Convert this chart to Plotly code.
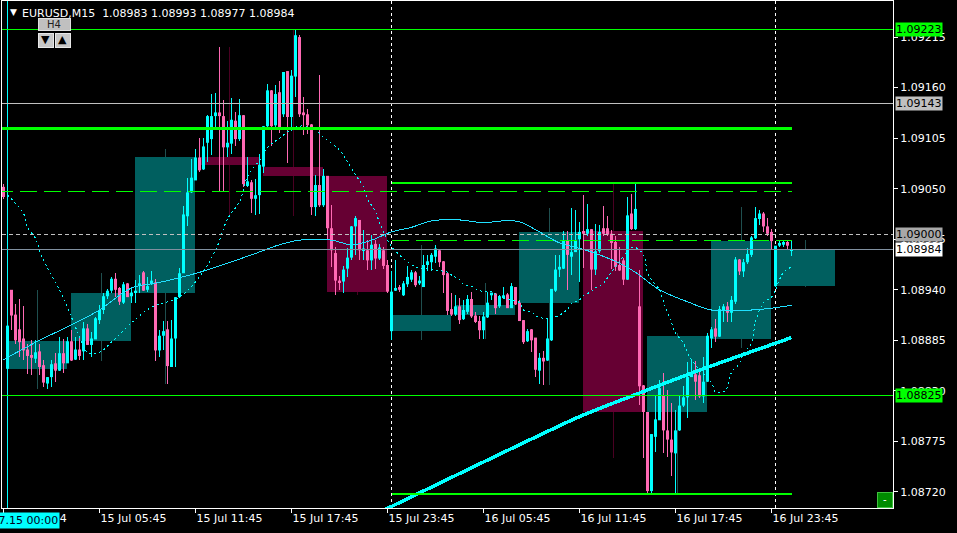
import plotly.graph_objects as go

# ---------------- data (EURUSD M15) ----------------
bar_index = list(range(-1, 197))   # -1 = 12 Jul 23:45, 0 = 15 Jul 00:00, ... 196 = 17 Jul 01:00

open_ = [
1.09052,
1.08854, 1.08940, 1.08913, 1.08897, 1.08887, 1.08875, 1.08869, 1.08865, 1.08873, 1.08858,
1.08838, 1.08845, 1.08860, 1.08852, 1.08871, 1.08860, 1.08884, 1.08864, 1.08875, 1.08873,
1.08898, 1.08880, 1.08886, 1.08907, 1.08918, 1.08933, 1.08939, 1.08952, 1.08942, 1.08926,
1.08947, 1.08933, 1.08937, 1.08944, 1.08959, 1.08940, 1.08946, 1.08948, 1.08874, 1.08890,
1.08897, 1.08856, 1.08887, 1.08932, 1.08958, 1.09020, 1.09046, 1.09059, 1.09084, 1.09071,
1.09100, 1.09104, 1.09129, 1.09133, 1.09129, 1.09095, 1.09099, 1.09124, 1.09104, 1.09130,
1.09053, 1.09057, 1.09039, 1.09043, 1.09074, 1.09118, 1.09157, 1.09119, 1.09155, 1.09131,
1.09178, 1.09128, 1.09172, 1.09215, 1.09133, 1.09131, 1.09120, 1.09030, 1.09054, 1.09032,
1.09064, 1.09007, 1.08980, 1.08950, 1.08949, 1.08963, 1.08975, 1.09009, 1.09016, 1.08983,
1.08983, 1.08972, 1.08990, 1.08974, 1.08983, 1.08967, 1.08895, 1.08939, 1.08943, 1.08934,
1.08946, 1.08951, 1.08959, 1.08947, 1.08943, 1.08967, 1.08970, 1.08976, 1.08983, 1.08971,
1.08958, 1.08919, 1.08913, 1.08922, 1.08908, 1.08916, 1.08930, 1.08912, 1.08906, 1.08896,
1.08910, 1.08934, 1.08936, 1.08922, 1.08931, 1.08935, 1.08920, 1.08943, 1.08926, 1.08907,
1.08884, 1.08897, 1.08888, 1.08852, 1.08866, 1.08863, 1.08885, 1.08939, 1.08962, 1.08963,
1.08994, 1.08976, 1.08981, 1.08995, 1.09004, 1.09001, 1.09006, 1.08962, 1.08982, 1.09007,
1.09007, 1.09001, 1.08992, 1.08967, 1.08972, 1.08951, 1.09023, 1.09006, 1.08922, 1.08836,
1.08807, 1.08721, 1.08780, 1.08798, 1.08825, 1.08787, 1.08777, 1.08762, 1.08787, 1.08814,
1.08823, 1.08845, 1.08848, 1.08847, 1.08824, 1.08840, 1.08887, 1.08898, 1.08889, 1.08917,
1.08922, 1.08915, 1.08927, 1.08973, 1.08960, 1.08970, 1.08978, 1.08996, 1.09017, 1.09023,
1.09009, 1.09003, 1.08944, 1.08988, 1.08989, 1.08992, 1.08983,
]
high = [
1.09055,
1.08903, 1.08940, 1.08925, 1.08930, 1.08922, 1.08881, 1.08885, 1.08885, 1.08881, 1.08864,
1.08845, 1.08864, 1.08871, 1.08889, 1.08887, 1.08889, 1.08896, 1.08889, 1.08889, 1.08905,
1.08903, 1.08894, 1.08910, 1.08923, 1.08936, 1.08941, 1.08954, 1.08958, 1.08943, 1.08949,
1.08947, 1.08941, 1.08951, 1.08956, 1.08960, 1.08954, 1.08961, 1.08952, 1.08896, 1.08906,
1.08906, 1.08907, 1.08932, 1.08964, 1.09031, 1.09062, 1.09082, 1.09093, 1.09105, 1.09105,
1.09130, 1.09153, 1.09154, 1.09204, 1.09146, 1.09124, 1.09149, 1.09133, 1.09148, 1.09130,
1.09085, 1.09059, 1.09061, 1.09088, 1.09118, 1.09164, 1.09157, 1.09163, 1.09167, 1.09177,
1.09178, 1.09179, 1.09224, 1.09217, 1.09150, 1.09137, 1.09120, 1.09065, 1.09174, 1.09071,
1.09064, 1.09032, 1.08987, 1.08955, 1.08966, 1.08985, 1.09009, 1.09020, 1.09016, 1.09005,
1.08994, 1.09000, 1.08994, 1.08990, 1.08987, 1.08972, 1.08960, 1.08972, 1.08945, 1.08950,
1.08966, 1.08962, 1.08960, 1.08955, 1.08978, 1.08978, 1.08980, 1.08989, 1.08983, 1.08971,
1.08958, 1.08936, 1.08934, 1.08931, 1.08929, 1.08934, 1.08938, 1.08916, 1.08911, 1.08916,
1.08938, 1.08937, 1.08936, 1.08934, 1.08943, 1.08936, 1.08947, 1.08943, 1.08929, 1.08907,
1.08897, 1.08897, 1.08888, 1.08871, 1.08873, 1.08909, 1.08941, 1.08978, 1.08978, 1.09004,
1.09004, 1.09029, 1.09027, 1.09014, 1.09043, 1.09033, 1.09006, 1.09012, 1.09011, 1.09031,
1.09020, 1.09005, 1.08998, 1.08987, 1.08975, 1.09041, 1.09044, 1.09055, 1.08962, 1.08836,
1.08807, 1.08783, 1.08824, 1.08842, 1.08849, 1.08831, 1.08817, 1.08809, 1.08825, 1.08835,
1.08861, 1.08864, 1.08862, 1.08855, 1.08867, 1.08893, 1.08900, 1.08908, 1.08922, 1.08925,
1.08927, 1.08933, 1.08976, 1.08974, 1.08974, 1.08985, 1.08998, 1.09030, 1.09027, 1.09025,
1.09018, 1.09006, 1.08988, 1.08993, 1.08994, 1.08994, 1.08993,
]
low = [
1.09039,
1.08852, 1.08896, 1.08881, 1.08867, 1.08864, 1.08848, 1.08847, 1.08860, 1.08847, 1.08834,
1.08832, 1.08834, 1.08840, 1.08852, 1.08849, 1.08860, 1.08862, 1.08864, 1.08864, 1.08864,
1.08880, 1.08867, 1.08886, 1.08903, 1.08914, 1.08930, 1.08936, 1.08932, 1.08923, 1.08925,
1.08932, 1.08926, 1.08926, 1.08936, 1.08939, 1.08938, 1.08945, 1.08863, 1.08867, 1.08874,
1.08838, 1.08856, 1.08856, 1.08931, 1.08958, 1.09009, 1.09045, 1.09059, 1.09068, 1.09070,
1.09079, 1.09087, 1.09114, 1.09048, 1.09048, 1.09085, 1.09088, 1.09096, 1.09102, 1.09052,
1.09052, 1.09024, 1.09021, 1.09023, 1.09067, 1.09117, 1.09096, 1.09114, 1.09111, 1.09128,
1.09078, 1.09113, 1.09150, 1.09128, 1.09108, 1.09110, 1.09021, 1.09020, 1.09030, 1.09030,
1.08995, 1.08965, 1.08934, 1.08940, 1.08936, 1.08954, 1.08972, 1.08978, 1.08972, 1.08972,
1.08962, 1.08962, 1.08963, 1.08972, 1.08963, 1.08936, 1.08885, 1.08939, 1.08938, 1.08933,
1.08943, 1.08949, 1.08943, 1.08945, 1.08943, 1.08960, 1.08960, 1.08969, 1.08965, 1.08936,
1.08913, 1.08911, 1.08911, 1.08903, 1.08907, 1.08914, 1.08909, 1.08904, 1.08886, 1.08887,
1.08909, 1.08929, 1.08914, 1.08920, 1.08931, 1.08920, 1.08920, 1.08923, 1.08906, 1.08881,
1.08883, 1.08872, 1.08845, 1.08838, 1.08836, 1.08862, 1.08884, 1.08938, 1.08954, 1.08963,
1.08940, 1.08956, 1.08981, 1.08949, 1.08964, 1.08998, 1.08940, 1.08956, 1.08980, 1.08999,
1.08998, 1.08963, 1.08960, 1.08960, 1.08945, 1.08951, 1.09005, 1.09005, 1.08815, 1.08757,
1.08719, 1.08719, 1.08764, 1.08798, 1.08762, 1.08758, 1.08737, 1.08719, 1.08786, 1.08812,
1.08800, 1.08845, 1.08820, 1.08822, 1.08817, 1.08840, 1.08877, 1.08883, 1.08889, 1.08905,
1.08905, 1.08905, 1.08925, 1.08956, 1.08954, 1.08968, 1.08976, 1.08995, 1.09011, 1.09003,
1.08998, 1.08983, 1.08943, 1.08987, 1.08987, 1.08983, 1.08977,
]
close = [
1.09041,
1.08901, 1.08912, 1.08885, 1.08883, 1.08874, 1.08868, 1.08866, 1.08872, 1.08856, 1.08839,
1.08845, 1.08859, 1.08852, 1.08871, 1.08860, 1.08884, 1.08863, 1.08875, 1.08868, 1.08898,
1.08880, 1.08887, 1.08909, 1.08918, 1.08933, 1.08939, 1.08952, 1.08940, 1.08927, 1.08946,
1.08932, 1.08937, 1.08939, 1.08947, 1.08939, 1.08944, 1.08950, 1.08874, 1.08890, 1.08895,
1.08857, 1.08887, 1.08932, 1.08958, 1.09022, 1.09046, 1.09062, 1.09084, 1.09070, 1.09096,
1.09129, 1.09129, 1.09133, 1.09129, 1.09095, 1.09100, 1.09125, 1.09104, 1.09130, 1.09055,
1.09058, 1.09039, 1.09043, 1.09076, 1.09118, 1.09157, 1.09118, 1.09153, 1.09115, 1.09177,
1.09128, 1.09173, 1.09217, 1.09131, 1.09130, 1.09119, 1.09030, 1.09054, 1.09032, 1.09064,
1.09007, 1.08983, 1.08950, 1.08948, 1.08962, 1.08975, 1.09009, 1.09018, 1.08983, 1.08985,
1.08972, 1.08989, 1.08974, 1.08986, 1.08966, 1.08938, 1.08938, 1.08942, 1.08940, 1.08947,
1.08954, 1.08959, 1.08945, 1.08950, 1.08967, 1.08971, 1.08978, 1.08985, 1.08970, 1.08956,
1.08917, 1.08913, 1.08922, 1.08907, 1.08918, 1.08930, 1.08911, 1.08905, 1.08896, 1.08911,
1.08926, 1.08937, 1.08920, 1.08933, 1.08934, 1.08920, 1.08944, 1.08924, 1.08906, 1.08883,
1.08895, 1.08885, 1.08853, 1.08866, 1.08862, 1.08887, 1.08941, 1.08962, 1.08965, 1.08994,
1.08978, 1.08981, 1.08994, 1.09003, 1.09001, 1.09006, 1.08962, 1.08982, 1.09003, 1.09001,
1.09000, 1.08991, 1.08965, 1.08961, 1.08951, 1.09021, 1.09006, 1.09028, 1.08835, 1.08807,
1.08721, 1.08783, 1.08799, 1.08833, 1.08787, 1.08777, 1.08763, 1.08787, 1.08814, 1.08823,
1.08845, 1.08848, 1.08840, 1.08824, 1.08840, 1.08890, 1.08897, 1.08889, 1.08919, 1.08922,
1.08915, 1.08929, 1.08973, 1.08960, 1.08970, 1.08979, 1.08997, 1.09018, 1.09023, 1.09009,
1.09001, 1.08993, 1.08988, 1.08991, 1.08992, 1.08988, 1.08984,
]

# slow moving average (solid thin cyan)
ma_bars = [-1, 8, 17, 23, 31, 38, 48, 61, 68, 73, 81, 86, 91, 96, 101, 106, 113, 119, 124, 128,
           133, 138, 144, 148, 153, 157, 163, 170, 176, 186, 191, 196]
ma_vals = [1.08864, 1.08885, 1.08904, 1.08918, 1.08942, 1.08948, 1.08959, 1.08978, 1.08989, 1.08994,
           1.08994, 1.08989, 1.08994, 1.09003, 1.09008, 1.09015, 1.09016, 1.09013, 1.09015, 1.09014,
           1.09003, 1.08991, 1.08984, 1.08978, 1.08969, 1.08959, 1.08940, 1.08927, 1.08918, 1.08918,
           1.08920, 1.08923]

# dotted cyan indicator
dot_bars = [0, 4, 5, 7, 8, 9, 13, 16, 18, 20, 23, 26, 31, 36, 43, 48, 52, 55, 58, 60,
            63, 65, 68, 72, 76, 79, 83, 85, 87, 89, 90, 92, 93, 95, 96, 99, 102, 106, 110, 111,
            113, 114, 116, 117, 119, 121, 123, 126, 128, 129, 131, 132, 134, 136, 139, 140, 141, 143, 144, 146,
            147, 149, 150, 151, 156, 157, 159, 160, 161, 163, 164, 165, 166, 167, 169, 170, 171, 172, 176, 177,
            179, 180, 181, 183, 184, 186, 187, 189, 191, 192, 193, 194, 196]
dot_vals = [1.09043, 1.09023, 1.09008, 1.08996, 1.08983, 1.08972, 1.08940, 1.08910, 1.08889, 1.08872,
            1.08872, 1.08883, 1.08904, 1.08921, 1.08932, 1.08954, 1.08983, 1.09017, 1.09036, 1.09063,
            1.09081, 1.09095, 1.09105, 1.09117, 1.09117, 1.09106, 1.09092, 1.09079, 1.09065, 1.09052,
            1.09039, 1.09025, 1.09013, 1.08994, 1.08987, 1.08974, 1.08965, 1.08962, 1.08959, 1.08956,
            1.08951, 1.08946, 1.08944, 1.08941, 1.08938, 1.08938, 1.08932, 1.08929, 1.08926, 1.08918,
            1.08916, 1.08912, 1.08909, 1.08909, 1.08915, 1.08919, 1.08925, 1.08929, 1.08934, 1.08938,
            1.08942, 1.08947, 1.08953, 1.08959, 1.08986, 1.08986, 1.08978, 1.08959, 1.08951, 1.08940,
            1.08927, 1.08915, 1.08904, 1.08893, 1.08882, 1.08871, 1.08864, 1.08858, 1.08839, 1.08829,
            1.08829, 1.08834, 1.08850, 1.08860, 1.08871, 1.08882, 1.08905, 1.08926, 1.08932, 1.08940,
            1.08951, 1.08959, 1.08965]

# thick cyan trend line
trend_bars = [94, 143, 157, 172, 196]
trend_vals = [1.08700, 1.08802, 1.08826, 1.08851, 1.08888]

# horizontal levels
full_levels = [1.09223, 1.08825]          # thin green, labelled
gray_level = 1.09143                      # thin light gray, labelled
round_level = 1.09000                     # gray dashed, labelled
zone_top = 1.09115                        # thick green from left edge
zone_mid = 1.09056                        # green from 16 Jul
zone_low = 1.08718                        # green from 16 Jul
dash_left = 1.09047                       # green dashed from left edge
dash_right = 1.08994                      # green dashed from 16 Jul

day_start_bars = [96, 192]                # 16 Jul 00:00, 17 Jul 00:00
week_open_bar = 0                         # 15 Jul 00:00
h4_size = 16

tick_bars = [-1, 23, 47, 71, 95, 119, 143, 167, 191]
tick_labels = ["12 Jul 2024", "15 Jul 05:45", "15 Jul 11:45", "15 Jul 17:45", "15 Jul 23:45",
               "16 Jul 05:45", "16 Jul 11:45", "16 Jul 17:45", "16 Jul 23:45"]
price_ticks = [1.08720, 1.08775, 1.08830, 1.08885, 1.08940, 1.08995, 1.09050, 1.09105, 1.09160, 1.09215]

# ---------------- layout geometry ----------------
W, H = 957, 533
ML, MR, MT, MB = 2, 64, 1, 25
PW, PH = W - ML - MR, H - MT - MB
PPU = 91900.0                        # pixels per price unit
Y_TOP = 1.0925425
Y_BOT = Y_TOP - PH / PPU
X0 = -1.375
X1 = X0 + PW / 4.0

def px(x):
    return (x - ML) / PW

def py(y):
    return 1 - (y - MT) / PH

BULL, BEAR = "#00ffff", "#ff69b4"
FONT = "DejaVu Sans"

fig = go.Figure()

# candles
for bull, col in ((True, BULL), (False, BEAR)):
    wx, wy, bx, bb, bh = [], [], [], [], []
    for i, o, h_, l, c in zip(bar_index, open_, high, low, close):
        if (c >= o) != bull:
            continue
        wx += [i, i, None]
        wy += [min(l, o, c), max(h_, o, c), None]
        bx.append(i)
        bb.append(min(o, c))
        bh.append(max(abs(c - o), 1.0 / PPU))
    fig.add_trace(go.Scatter(x=wx, y=wy, mode="lines", line=dict(color=col, width=1),
                             hoverinfo="skip", connectgaps=False))
    fig.add_trace(go.Bar(x=bx, y=bh, base=bb, width=0.75, marker=dict(color=col, line=dict(width=0)),
                         hoverinfo="skip"))

# indicators
fig.add_trace(go.Scatter(x=ma_bars, y=ma_vals, mode="lines", line=dict(color="#20e0ff", width=1, shape="spline"),
                         hoverinfo="skip"))
fig.add_trace(go.Scatter(x=dot_bars, y=dot_vals, mode="lines",
                         line=dict(color="#00ffff", width=1, dash="2px,3px", shape="spline"),
                         hoverinfo="skip"))
fig.add_trace(go.Scatter(x=trend_bars, y=trend_vals, mode="lines",
                         line=dict(color="#00ffff", width=3.5, shape="spline", smoothing=0.6),
                         hoverinfo="skip"))

shapes = []
# H4 candles (background boxes and wicks) derived from the M15 bars
first_bar = bar_index.index(0)
for g in range(first_bar, len(bar_index), h4_size):
    seg = slice(g, min(g + h4_size, len(bar_index)))
    o = open_[g]
    c = close[seg][-1]
    hh = max(high[seg])
    ll = min(low[seg])
    b0 = bar_index[g]
    up = c >= o
    shapes.append(dict(type="line", xref="x", yref="y", x0=b0 + 7.5, x1=b0 + 7.5, y0=ll, y1=hh,
                       line=dict(color="#1f4f4f" if up else "#4a0022", width=1), layer="below"))
    shapes.append(dict(type="rect", xref="x", yref="y", x0=b0 - 0.125, x1=b0 + h4_size - 1.125,
                       y0=o, y1=c, fillcolor="#005f5f" if up else "#660033",
                       line=dict(width=0), layer="below"))

# vertical lines
shapes.append(dict(type="line", xref="x", yref="paper", x0=week_open_bar, x1=week_open_bar, y0=0, y1=1,
                   line=dict(color="#00ffff", width=1), layer="below"))
for b in day_start_bars:
    shapes.append(dict(type="line", xref="x", yref="paper", x0=b, x1=b, y0=0, y1=1,
                       line=dict(color="#ffffff", width=1, dash="3px,3px"), layer="below"))

last_bar = bar_index[-1]
bid = close[-1]
# horizontal levels
for lv in full_levels:
    shapes.append(dict(type="line", xref="paper", yref="y", x0=0, x1=1, y0=lv, y1=lv,
                       line=dict(color="#00ff00", width=1)))
shapes.append(dict(type="line", xref="paper", yref="y", x0=0, x1=1, y0=gray_level, y1=gray_level,
                   line=dict(color="#c0c0c0", width=1)))
shapes.append(dict(type="line", xref="paper", yref="y", x0=0, x1=1, y0=round_level, y1=round_level,
                   line=dict(color="#c0c0c0", width=1, dash="4px,3px")))
shapes.append(dict(type="line", xref="paper", yref="y", x0=0, x1=1, y0=bid, y1=bid,
                   line=dict(color="#8090a0", width=1)))
shapes.append(dict(type="line", xref="x", yref="y", x0=bar_index[0] - 2, x1=last_bar, y0=zone_top, y1=zone_top,
                   line=dict(color="#00ff00", width=3)))
shapes.append(dict(type="line", xref="x", yref="y", x0=day_start_bars[0], x1=last_bar, y0=zone_mid, y1=zone_mid,
                   line=dict(color="#00ff00", width=2)))
shapes.append(dict(type="line", xref="x", yref="y", x0=day_start_bars[0], x1=last_bar, y0=zone_low, y1=zone_low,
                   line=dict(color="#00ff00", width=2)))
shapes.append(dict(type="line", xref="x", yref="y", x0=bar_index[0] - 2, x1=last_bar, y0=dash_left, y1=dash_left,
                   line=dict(color="#00ff00", width=1, dash="17px,7px")))
shapes.append(dict(type="line", xref="x", yref="y", x0=day_start_bars[0], x1=last_bar, y0=dash_right, y1=dash_right,
                   line=dict(color="#00ff00", width=1, dash="17px,7px")))

# H4 selector buttons (top-left) and small green button (bottom-right)
shapes.append(dict(type="rect", xref="paper", yref="paper", x0=px(38), x1=px(70), y0=py(30), y1=py(18),
                   fillcolor="#c0c0c0", line=dict(color="#e0e0e0", width=1)))
shapes.append(dict(type="rect", xref="paper", yref="paper", x0=px(38), x1=px(53), y0=py(47), y1=py(33),
                   fillcolor="#c8c8c8", line=dict(color="#e8e8e8", width=1)))
shapes.append(dict(type="rect", xref="paper", yref="paper", x0=px(55), x1=px(70), y0=py(47), y1=py(33),
                   fillcolor="#c8c8c8", line=dict(color="#e8e8e8", width=1)))
shapes.append(dict(type="rect", xref="paper", yref="paper", x0=px(877), x1=px(892), y0=py(507), y1=py(492),
                   fillcolor="#008c00", line=dict(color="#40c040", width=1)))

ann = []
ann.append(dict(xref="paper", yref="paper", x=px(8), y=py(12), xanchor="left", yanchor="middle",
                text="▼", showarrow=False, font=dict(color="white", size=9, family=FONT)))
ann.append(dict(xref="paper", yref="paper", x=px(20), y=py(13), xanchor="left", yanchor="middle",
                text="EURUSD,M15\u00a0\u00a0%.5f %.5f %.5f %.5f" % (open_[-1], high[-1], low[-1], close[-1]),
                showarrow=False, font=dict(color="white", size=11, family=FONT)))
ann.append(dict(xref="paper", yref="paper", x=px(54), y=py(24), xanchor="center", yanchor="middle",
                text="H4", showarrow=False, font=dict(color="#202020", size=10, family=FONT)))
ann.append(dict(xref="paper", yref="paper", x=px(45.5), y=py(40), xanchor="center", yanchor="middle",
                text="▼", showarrow=False, font=dict(color="black", size=11, family=FONT)))
ann.append(dict(xref="paper", yref="paper", x=px(62.5), y=py(40), xanchor="center", yanchor="middle",
                text="▲", showarrow=False, font=dict(color="black", size=11, family=FONT)))
ann.append(dict(xref="paper", yref="paper", x=px(884.5), y=py(499), xanchor="center", yanchor="middle",
                text="-", showarrow=False, font=dict(color="white", size=10, family=FONT)))

# price labels on the axis
for lv, bg in ((full_levels[0], "#00ff00"), (gray_level, "#c0c0c0"), (round_level, "#a8a8a8"),
               (bid, "#ffffff"), (full_levels[1], "#00ff00")):
    ann.append(dict(xref="paper", yref="y", x=px(895), y=lv, xanchor="left", yanchor="middle",
                    text="%.5f" % lv, showarrow=False, bgcolor=bg, borderpad=0,
                    font=dict(color="black", size=11, family=FONT)))
# time label of the vertical line
ann.append(dict(xref="x", yref="paper", x=week_open_bar, y=py(520), xanchor="center", yanchor="middle",
                text="2024.07.15 00:00", showarrow=False, bgcolor="#00ffff", borderpad=1, xshift=1,
                font=dict(color="#000020", size=11, family=FONT)))

fig.update_layout(
    width=W, height=H, margin=dict(l=ML, r=MR, t=MT, b=MB),
    paper_bgcolor="black", plot_bgcolor="black",
    showlegend=False, barmode="overlay", hovermode=False,
    shapes=shapes, annotations=ann,
    xaxis=dict(range=[X0, X1], showgrid=False, zeroline=False, showline=True, mirror=True,
               linecolor="white", linewidth=1, ticks="outside", ticklen=4, tickcolor="white",
               tickvals=tick_bars, ticktext=tick_labels, ticklabelposition="outside right",
               tickfont=dict(color="white", size=11, family=FONT), fixedrange=True),
    yaxis=dict(range=[Y_BOT, Y_TOP], side="right", showgrid=False, zeroline=False, showline=True,
               mirror=True, linecolor="white", linewidth=1, ticks="outside", ticklen=4,
               tickcolor="white", tickvals=price_ticks, ticktext=["%.5f" % v for v in price_ticks],
               tickfont=dict(color="white", size=11, family=FONT), fixedrange=True),
)

fig.write_html(
    "out.html", config={"displayModeBar": False},
    post_script=(
        "document.body.style.margin='0';document.body.style.overflow='hidden';"
        "var s=document.createElement('style');"
        "s.textContent='.shapelayer path, .scatterlayer path{shape-rendering:crispEdges}';"
        "document.head.appendChild(s);"
    ),
)
